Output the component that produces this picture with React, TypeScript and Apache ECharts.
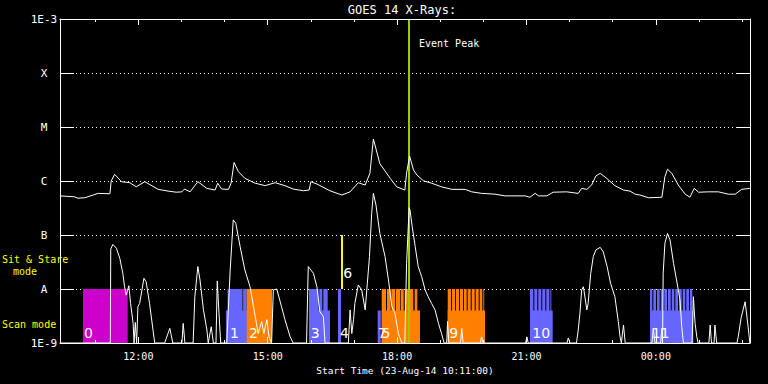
import React, { useEffect, useRef } from 'react';
import * as echarts from 'echarts';

// ---- axes ----
const X_MIN = 10 + 11 / 60; // 23-Aug-14 10:11
const X_MAX = X_MIN + 16;
const hourTicks = [11, 12, 13, 14, 15, 16, 17, 18, 19, 20, 21, 22, 23, 24, 25, 26];
const labelTicks = [12, 15, 18, 21, 24];
const yTickNames: Record<number, string> = { '-9': '1E-9', '-8': 'A', '-7': 'B', '-6': 'C', '-5': 'M', '-4': 'X', '-3': '1E-3' } as any;

const FLOOR = 1e-9;
const A_LEVEL = 1e-8;
const B_LEVEL = 1e-7;
const LOW_TOP = 4e-9;
const TOP = 1e-3;

// ---- GOES long channel (1-8 A) [hour, W/m^2] ----
const longChannel: [number, number][] = [
  [10.18, 5.3e-7], [10.52, 5.1e-7], [10.60, 4.8e-7], [10.76, 4.9e-7], [11.07, 5.9e-7], [11.34, 5.8e-7],
  [11.37, 1.0e-6], [11.45, 1.33e-6], [11.61, 9.7e-7], [11.80, 9.3e-7], [11.95, 7.8e-7], [12.15, 9.7e-7],
  [12.46, 7.0e-7], [12.69, 6.5e-7], [12.88, 6.2e-7], [13.01, 6.3e-7], [13.07, 7.1e-7], [13.20, 6.3e-7],
  [13.38, 9.7e-7], [13.59, 7.3e-7], [13.78, 6.8e-7], [13.84, 9.1e-7], [13.93, 7.1e-7], [14.09, 7.0e-7],
  [14.15, 9.1e-7], [14.22, 2.2e-6], [14.32, 1.49e-6], [14.47, 1.12e-6], [14.71, 9.1e-7], [14.94, 8.2e-7],
  [15.17, 9.3e-7], [15.40, 8.2e-7], [15.59, 7.1e-7], [15.83, 6.6e-7], [15.96, 6.8e-7], [16.00, 9.7e-7],
  [16.14, 8.8e-7], [16.44, 6.6e-7], [16.72, 5.5e-7], [16.91, 6.3e-7], [17.10, 9.3e-7], [17.26, 8.4e-7],
  [17.37, 1.39e-6], [17.45, 6.0e-6], [17.60, 2.1e-6], [17.84, 1.12e-6], [17.99, 7.8e-7], [18.18, 6.8e-7],
  [18.22, 1.4e-6], [18.29, 2.9e-6], [18.38, 1.6e-6], [18.46, 1.29e-6], [18.61, 1.01e-6], [18.80, 9.1e-7],
  [19.03, 7.8e-7], [19.27, 7.0e-7], [19.58, 7.0e-7], [19.73, 6.3e-7], [19.96, 5.9e-7], [20.27, 5.7e-7],
  [20.50, 5.3e-7], [20.97, 5.3e-7], [21.08, 5.0e-7], [21.20, 5.9e-7], [21.28, 5.3e-7], [21.47, 5.3e-7],
  [21.62, 6.2e-7], [21.93, 6.3e-7], [22.20, 5.9e-7], [22.28, 7.3e-7], [22.40, 7.0e-7], [22.51, 8.4e-7],
  [22.61, 1.24e-6], [22.71, 1.39e-6], [22.86, 1.12e-6], [23.05, 8.2e-7], [23.25, 6.8e-7], [23.40, 6.5e-7],
  [23.52, 5.7e-7], [23.63, 5.5e-7], [23.83, 4.9e-7], [24.14, 5.0e-7], [24.21, 1.2e-6], [24.27, 1.65e-6],
  [24.37, 1.39e-6], [24.52, 8.4e-7], [24.68, 5.7e-7], [24.79, 5.0e-7], [24.89, 7.3e-7], [24.99, 6.2e-7],
  [25.22, 6.3e-7], [25.45, 6.3e-7], [25.68, 5.7e-7], [25.84, 5.7e-7], [25.99, 7.0e-7], [26.18, 7.3e-7],
];

// ---- GOES short channel (0.5-4 A) [hour, W/m^2] ----
const shortChannel: [number, number][] = [
  [10.18, 1e-9], [11.35, 1e-9], [11.36, 5.5e-8], [11.41, 6.7e-8], [11.49, 5.7e-8], [11.57, 3.7e-8],
  [11.64, 1.95e-8], [11.68, 1.1e-8], [11.72, 7.7e-9], [11.78, 1.15e-8], [11.82, 5.4e-9], [11.88, 2.3e-9],
  [11.90, 1e-9], [11.93, 2.4e-9], [11.96, 1e-9], [11.99, 4.7e-9], [12.03, 5.4e-9], [12.13, 1.58e-8],
  [12.18, 1.37e-8], [12.26, 5.4e-9], [12.34, 1.74e-9], [12.38, 1e-9], [12.61, 1e-9], [12.73, 1.87e-9],
  [12.80, 1e-9], [13.01, 1e-9], [13.04, 2.3e-9], [13.08, 1e-9], [13.27, 1e-9], [13.31, 7.2e-9],
  [13.38, 2.6e-8], [13.43, 1.47e-8], [13.51, 4.1e-9], [13.59, 1.74e-9], [13.62, 1e-9], [13.69, 2.0e-9],
  [13.74, 1e-9], [13.80, 1e-9], [13.83, 1.41e-8], [13.87, 3.55e-9], [13.91, 1e-9], [14.05, 1e-9],
  [14.13, 2.25e-8], [14.20, 1.9e-7], [14.26, 1.65e-7], [14.36, 6.1e-8], [14.47, 2.25e-8], [14.59, 1.1e-8],
  [14.71, 3.1e-9], [14.78, 1.5e-9], [14.86, 2.5e-9], [14.91, 1.5e-9], [14.98, 2.7e-9], [15.03, 1.3e-9],
  [15.09, 1e-9], [15.13, 9.6e-9], [15.21, 1.0e-8], [15.32, 4.7e-9], [15.40, 2.7e-9], [15.52, 1.3e-9],
  [15.59, 1e-9], [15.90, 1e-9], [15.94, 2.6e-8], [16.06, 1.95e-8], [16.14, 1.1e-8], [16.21, 3.8e-9],
  [16.29, 3.1e-9], [16.33, 1e-9], [16.87, 1e-9], [16.91, 4.1e-9], [16.95, 1.5e-9], [16.99, 2.7e-9],
  [17.02, 5.4e-9], [17.10, 1.19e-8], [17.18, 9.6e-9], [17.26, 4.1e-9], [17.31, 1.28e-8], [17.36, 4.0e-8],
  [17.41, 2.5e-7], [17.45, 5.9e-7], [17.51, 3.6e-7], [17.60, 1.07e-7], [17.72, 4.0e-8], [17.80, 1.47e-8],
  [17.88, 4.7e-9], [17.95, 3.55e-9], [18.03, 1.5e-9], [18.11, 1e-9], [18.18, 1e-9], [18.22, 3.0e-8],
  [18.28, 3.2e-7], [18.30, 2.9e-7], [18.35, 1.43e-7], [18.42, 6.1e-8], [18.49, 2.6e-8], [18.57, 1.69e-8],
  [18.65, 9.6e-9], [18.72, 7.2e-9], [18.80, 5.4e-9], [18.88, 4.1e-9], [18.96, 2.3e-9], [19.03, 1.5e-9],
  [19.09, 1e-9], [19.15, 1e-9], [19.17, 2.5e-9], [19.20, 1e-9], [19.47, 1e-9], [19.50, 1.87e-9],
  [19.53, 1e-9], [19.93, 1e-9], [19.96, 1.3e-9], [19.99, 1e-9], [20.98, 1e-9], [21.01, 1.3e-9],
  [21.04, 1e-9], [21.94, 1e-9], [21.97, 1.24e-9], [22.01, 1e-9], [22.16, 1e-9], [22.20, 1.74e-9],
  [22.24, 3.55e-9], [22.28, 9.6e-9], [22.32, 1.1e-8], [22.40, 4.1e-9], [22.43, 5.4e-9], [22.49, 1.95e-8],
  [22.55, 4.0e-8], [22.61, 5.3e-8], [22.71, 5.9e-8], [22.78, 4.9e-8], [22.87, 2.6e-8], [22.95, 1.28e-8],
  [23.05, 7.2e-9], [23.13, 2.5e-9], [23.17, 1.3e-9], [23.20, 1e-9], [23.25, 2.15e-9], [23.29, 1e-9],
  [23.91, 1e-9], [23.94, 1.87e-9], [23.98, 1e-9], [24.11, 1e-9], [24.14, 1.87e-9], [24.155, 1e-9],
  [24.17, 1.95e-8], [24.21, 7.0e-8], [24.27, 1.07e-7], [24.33, 8.1e-8], [24.41, 3.0e-8], [24.48, 1.47e-8],
  [24.56, 6.3e-9], [24.60, 2.0e-9], [24.64, 1e-9], [24.84, 1e-9], [24.87, 7.2e-9], [24.91, 2.3e-9],
  [24.95, 1.3e-9], [24.98, 1e-9], [25.23, 1e-9], [25.26, 2.15e-9], [25.29, 1e-9], [25.35, 1e-9],
  [25.37, 2.15e-9], [25.41, 1e-9], [25.88, 1e-9], [25.91, 1.3e-9], [25.98, 3.0e-9], [26.07, 5.8e-9],
  [26.14, 2.0e-9], [26.18, 1e-9],
];

// ---- observation modes ----
const modeColors = ['#cc00cc', '#6666ff', '#ff8000', '#ffff00'];
// scan-mode exposures reaching level A: [start hour, end hour, colour index]
const scanFull: [number, number, number][] = [
  [10.717, 11.753, 0],
  [14.07, 14.415, 1], [14.43, 14.513, 1], [14.513, 15.099, 2],
  [15.957, 16.18, 1], [16.196, 16.265, 1], [16.289, 16.391, 1],
  [16.63, 16.70, 1],
  [17.643, 17.743, 2], [17.766, 17.852, 2], [17.866, 17.958, 2], [17.975, 18.067, 2],
  [18.083, 18.153, 2], [18.176, 18.276, 2], [18.299, 18.376, 2], [18.408, 18.469, 2],
  [19.174, 19.25, 2], [19.274, 19.343, 2], [19.366, 19.436, 2], [19.459, 19.528, 2], [19.551, 19.614, 2],
  [19.637, 19.707, 2], [19.73, 19.8, 2], [19.823, 19.892, 2], [19.915, 19.976, 2], [19.999, 20.02, 2],
  [21.082, 21.159, 1], [21.182, 21.251, 1], [21.274, 21.344, 1], [21.367, 21.437, 1], [21.46, 21.53, 1],
  [21.553, 21.576, 1],
  [23.865, 23.918, 1], [23.941, 24.003, 1], [24.027, 24.089, 1], [24.112, 24.173, 1], [24.196, 24.259, 1],
  [24.282, 24.345, 1], [24.368, 24.428, 1], [24.451, 24.514, 1], [24.537, 24.6, 1], [24.623, 24.683, 1],
  [24.706, 24.769, 1], [24.792, 24.845, 1],
];
// scan-mode short exposures (lower band)
const scanLow: [number, number, number][] = [
  [14.03, 14.52, 1], [15.957, 16.444, 1], [17.55, 17.62, 1], [17.643, 18.531, 2],
  [19.174, 20.039, 2], [21.082, 21.608, 1], [23.865, 24.869, 1],
];
// sit & stare exposures
const sitStare: [number, number][] = [[16.70, 16.745]];
// observation numbers
const groupLabels = ['0', '1', '2', '3', '4', '7', '5', '6', '9', '10', '11'];
const groupLabelTimes = [10.74, 14.125, 14.566, 15.997, 16.676, 17.55, 17.64, 16.753, 19.211, 21.135, 23.904];
const groupLabelLevels = [1.53e-9, 1.53e-9, 1.53e-9, 1.53e-9, 1.53e-9, 1.53e-9, 1.53e-9, 2.02e-8, 1.53e-9, 1.53e-9, 1.53e-9];
const eventPeak = 18.276;

const MONO = '"DejaVu Sans Mono", "Liberation Mono", monospace';

const rectRender = (_p: any, api: any) => {
  const a = api.coord([api.value(0), api.value(3)]);
  const b = api.coord([api.value(1), api.value(2)]);
  return {
    type: 'rect',
    shape: { x: a[0], y: a[1], width: b[0] - a[0], height: b[1] - a[1] },
    style: { fill: modeColors[api.value(4)] },
  };
};

const pad = (h: number) => `${String(h % 24).padStart(2, '0')}:00`;

export default function App() {
  const ref = useRef<HTMLDivElement>(null);
  useEffect(() => {
    const chart = echarts.init(ref.current!, null, { renderer: 'svg' });
    const baseX = {
      type: 'value', min: X_MIN, max: X_MAX, z: 10,
      splitLine: { show: false },
    };
    const option: any = {
      animation: false,
      backgroundColor: '#000',
      grid: { left: 60, right: 18, top: 19, bottom: 41, containLabel: false, outerBoundsMode: 'none' },
      xAxis: [
        {
          ...baseX, position: 'bottom', offset: 0,
          axisLine: { show: true, lineStyle: { color: '#fff', width: 1 } },
          axisTick: { show: true, inside: true, length: 3, customValues: hourTicks, lineStyle: { color: '#fff' } },
          axisLabel: { show: true, customValues: labelTicks, formatter: (v: number) => pad(Math.round(v)), color: '#fff', fontFamily: MONO, fontSize: 10, margin: 8 },
          name: 'Start Time (23-Aug-14 10:11:00)', nameLocation: 'middle', nameGap: 19,
          nameTextStyle: { color: '#fff', fontFamily: MONO, fontSize: 9.5 },
        },
        {
          ...baseX, position: 'bottom', offset: 0,
          axisLine: { show: false },
          axisTick: { show: true, inside: true, length: 6, customValues: labelTicks, lineStyle: { color: '#fff' } },
          axisLabel: { show: false },
        },
        {
          ...baseX, position: 'top', offset: 0,
          axisLine: { show: true, lineStyle: { color: '#fff', width: 1 } },
          axisTick: { show: true, inside: true, length: 3, customValues: hourTicks, lineStyle: { color: '#fff' } },
          axisLabel: { show: false },
        },
        {
          ...baseX, position: 'top', offset: 0,
          axisLine: { show: false },
          axisTick: { show: true, inside: true, length: 6, customValues: labelTicks, lineStyle: { color: '#fff' } },
          axisLabel: { show: false },
        },
      ],
      yAxis: [
        {
          type: 'log', logBase: 10, min: FLOOR, max: TOP, splitNumber: 6, position: 'left',
          axisLine: { show: true, lineStyle: { color: '#fff', width: 1 } },
          axisTick: { show: true, inside: true, length: 14, lineStyle: { color: '#fff' } },
          axisLabel: {
            color: '#fff', fontFamily: MONO, fontSize: 11, align: 'center', margin: 16,
            formatter: (v: number) => yTickNames[Math.round(Math.log10(v))] ?? '',
          },
          splitLine: { show: true, lineStyle: { color: '#fff', width: 1, type: [1, 3] } },
        },
        {
          type: 'log', logBase: 10, min: FLOOR, max: TOP, splitNumber: 6, position: 'right',
          axisLine: { show: true, lineStyle: { color: '#fff', width: 1 } },
          axisTick: { show: true, inside: true, length: 14, lineStyle: { color: '#fff' } },
          axisLabel: { show: false },
          splitLine: { show: false },
        },
      ],
      graphic: [
        { type: 'text', x: 402, y: 10, style: { text: 'GOES 14 X-Rays:', fill: '#fff', font: `12px ${MONO}`, align: 'center', verticalAlign: 'middle' } },
        { type: 'text', x: 2, y: 259, style: { text: 'Sit & Stare', fill: '#ffff00', font: `10px ${MONO}`, align: 'left', verticalAlign: 'middle' } },
        { type: 'text', x: 25, y: 271, style: { text: 'mode', fill: '#ffff00', font: `10px ${MONO}`, align: 'center', verticalAlign: 'middle' } },
        { type: 'text', x: 2, y: 324, style: { text: 'Scan mode', fill: '#ffff00', font: `10px ${MONO}`, align: 'left', verticalAlign: 'middle' } },
      ],
      series: [
        {
          type: 'custom', name: 'scanLow', renderItem: rectRender, silent: true,
          encode: { x: [0, 1], y: [2, 3] },
          data: scanLow.map(([s, e, c]) => [s, e, FLOOR, LOW_TOP, c]),
        },
        {
          type: 'custom', name: 'scanFull', renderItem: rectRender, silent: true,
          encode: { x: [0, 1], y: [2, 3] },
          data: scanFull.map(([s, e, c]) => [s, e, FLOOR, A_LEVEL, c]),
        },
        {
          type: 'custom', name: 'sitStare', renderItem: rectRender, silent: true,
          encode: { x: [0, 1], y: [2, 3] },
          data: sitStare.map(([s, e]) => [s, e, A_LEVEL, B_LEVEL, 3]),
        },
        {
          type: 'custom', name: 'labels', silent: true,
          encode: { x: 0, y: 1 },
          data: groupLabels.map((_, i) => [groupLabelTimes[i], groupLabelLevels[i], i]),
          renderItem: (_p: any, api: any) => {
            const p = api.coord([api.value(0), api.value(1)]);
            return {
              type: 'text', x: p[0], y: p[1],
              style: { text: groupLabels[api.value(2)], fill: '#fff', font: '14px "DejaVu Sans"', align: 'left', verticalAlign: 'middle' },
            };
          },
        },
        {
          type: 'line', name: 'long', data: longChannel, showSymbol: false, symbol: 'none',
          lineStyle: { color: '#fff', width: 1 }, silent: true, clip: true,
        },
        {
          type: 'line', name: 'short', data: shortChannel, showSymbol: false, symbol: 'none',
          lineStyle: { color: '#fff', width: 1 }, silent: true, clip: true,
        },
        {
          type: 'custom', name: 'event', silent: true,
          encode: { x: 0, y: 1 },
          data: [[eventPeak, TOP]],
          renderItem: (_p: any, api: any) => {
            const t = api.coord([api.value(0), TOP]);
            const b = api.coord([api.value(0), FLOOR]);
            return {
              type: 'group',
              children: [
                { type: 'line', shape: { x1: t[0], y1: t[1], x2: b[0], y2: b[1] }, style: { stroke: '#99cc00', lineWidth: 2 } },
                { type: 'text', x: t[0] + 10, y: t[1] + 24, style: { text: 'Event Peak', fill: '#fff', font: `10px ${MONO}`, align: 'left', verticalAlign: 'middle' } },
              ],
            };
          },
        },
      ],
    };
    chart.setOption(option);
    return () => chart.dispose();
  }, []);
  return (
    <div
      ref={ref}
      style={{ position: 'fixed', left: 0, top: 0, width: 768, height: 384, background: '#000' }}
    />
  );
}
